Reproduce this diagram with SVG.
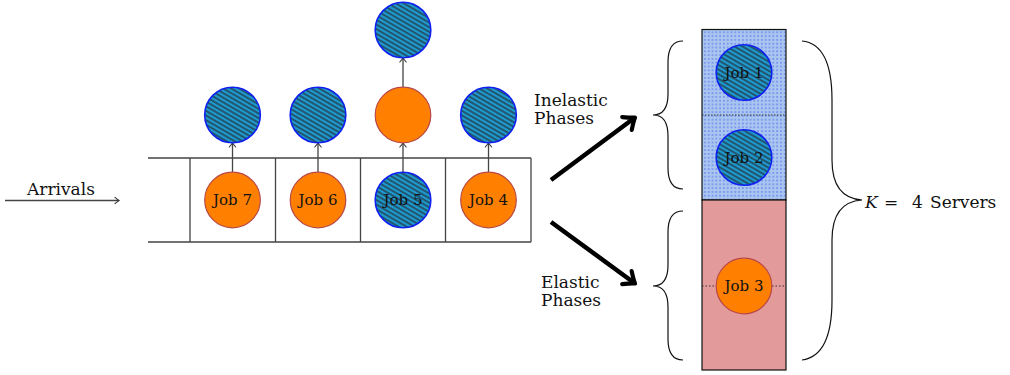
<svg xmlns="http://www.w3.org/2000/svg" width="1010" height="375" viewBox="0 0 1010 375">
<style>
text{fill:#111;font-family:"DejaVu Serif","Liberation Serif",serif}
.lbl{font-size:17px}
.job{font-size:15px;text-anchor:middle;dominant-baseline:central}
.orange{fill:#FF8000;stroke:#B84848;stroke-width:1.2}
.hatched{fill:url(#hatch);stroke:#1020F0;stroke-width:1.6}
.thin{stroke:#444;stroke-width:1.3;fill:none}
.brace{stroke:#111;stroke-width:1.2;fill:none}
.thick{stroke:#000;stroke-width:4.5;fill:none}
</style>
<defs>
<pattern id="hatch" width="4" height="4" patternUnits="userSpaceOnUse" patternTransform="rotate(30)">
<rect width="4" height="4" fill="#1E9ACE"/>
<line x1="0" y1="1" x2="4" y2="1" stroke="#24303C" stroke-width="1.3"/>
</pattern>
<pattern id="dots" width="3.8" height="3.8" patternUnits="userSpaceOnUse">
<rect width="3.8" height="3.8" fill="#A9C6F0"/>
<circle cx="1.9" cy="1.9" r="0.65" fill="#3346E8"/>
</pattern>
<marker id="to" viewBox="-6 -5 8 10" markerWidth="8" markerHeight="10" refX="0" refY="0" orient="auto" markerUnits="userSpaceOnUse">
<path d="M-4,-3.2 Q-1,-0.6 0,0 Q-1,0.6 -4,3.2" fill="none" stroke="#333" stroke-width="1.1" stroke-linecap="round"/>
</marker>
<marker id="bigto" viewBox="-14 -12 18 24" markerWidth="18" markerHeight="24" refX="0" refY="0" orient="auto" markerUnits="userSpaceOnUse">
<path d="M-10,-8 Q-3,-1.8 0,0 Q-3,1.8 -10,8" fill="none" stroke="#000" stroke-width="4.2" stroke-linecap="round" stroke-linejoin="round"/>
</marker>
</defs>

<g id="queue">
<path class="thin" d="M148,158 H531 M148,242 H531 M190,158 V242 M275.5,158 V242 M360.5,158 V242 M445.5,158 V242 M531,158 V242"/>
</g>

<g id="servers">
<rect x="702" y="29.5" width="84" height="170.5" fill="url(#dots)" stroke="#111" stroke-width="1.2"/>
<rect x="702" y="200" width="84" height="170" fill="#E39A9A" stroke="#111" stroke-width="1.2"/>
<line x1="702" y1="115" x2="786" y2="115" stroke="#333" stroke-width="1" stroke-dasharray="1.5,1.5"/>
<line x1="702" y1="286" x2="786" y2="286" stroke="#333" stroke-width="1" stroke-dasharray="1.5,2"/>
</g>

<g id="connectors">
<line class="thin" x1="5" y1="200.5" x2="119" y2="200.5" marker-end="url(#to)"/>
<line class="thin" x1="232.5" y1="172" x2="232.5" y2="143" marker-end="url(#to)"/>
<line class="thin" x1="318" y1="172" x2="318" y2="143" marker-end="url(#to)"/>
<line class="thin" x1="403" y1="172" x2="403" y2="143" marker-end="url(#to)"/>
<line class="thin" x1="488.5" y1="172" x2="488.5" y2="143" marker-end="url(#to)"/>
<line class="thin" x1="403" y1="87" x2="403" y2="58" marker-end="url(#to)"/>
<line class="thick" x1="551" y1="180" x2="635" y2="117.5" marker-end="url(#bigto)"/>
<line class="thick" x1="551" y1="222" x2="635" y2="283.5" marker-end="url(#bigto)"/>
</g>

<g id="job7"><circle class="orange" cx="232.5" cy="200" r="27.8"/><text class="job" x="232.5" y="200">Job 7</text></g>
<g id="job6"><circle class="orange" cx="318" cy="200" r="27.8"/><text class="job" x="318" y="200">Job 6</text></g>
<g id="job5"><circle class="hatched" cx="403" cy="200" r="27.8"/><text class="job" x="403" y="200">Job 5</text></g>
<g id="job4"><circle class="orange" cx="488.5" cy="200" r="27.8"/><text class="job" x="488.5" y="200">Job 4</text></g>
<g id="phase7"><circle class="hatched" cx="232.5" cy="115" r="27.8"/></g>
<g id="phase6"><circle class="hatched" cx="318" cy="115" r="27.8"/></g>
<g id="phase5a"><circle class="orange" cx="403" cy="115" r="27.8"/></g>
<g id="phase5b"><circle class="hatched" cx="403" cy="30" r="27.8"/></g>
<g id="phase4"><circle class="hatched" cx="488.5" cy="115" r="27.8"/></g>

<g id="job1"><circle class="hatched" cx="744" cy="72.5" r="27.8"/><text class="job" x="744" y="72.5">Job 1</text></g>
<g id="job2"><circle class="hatched" cx="744" cy="157.5" r="27.8"/><text class="job" x="744" y="157.5">Job 2</text></g>
<g id="job3"><circle class="orange" cx="744" cy="286" r="27.8"/><text class="job" x="744" y="286">Job 3</text></g>

<g id="braces">
<path class="brace" d="M683,41 Q668,41 668,62 L668,94 Q668,115 653,115 Q668,115 668,136 L668,168 Q668,189 683,189"/>
<path class="brace" d="M683,211 Q668,211 668,232 L668,265 Q668,286 653,286 Q668,286 668,307 L668,339 Q668,360 683,360"/>
<path class="brace" d="M802,41 Q832,44 832,100 L832,160 Q832,198 862,200 Q832,202 832,240 L832,300 Q832,356 802,360"/>
</g>

<g id="labels">
<text class="lbl" x="27" y="195">Arrivals</text>
<text class="lbl" x="534" y="106">Inelastic</text>
<text class="lbl" x="534" y="124">Phases</text>
<text class="lbl" x="541" y="288">Elastic</text>
<text class="lbl" x="541" y="306">Phases</text>
<text class="lbl" y="208"><tspan x="865" font-style="italic">K</tspan><tspan x="884">=</tspan><tspan x="912">4</tspan><tspan x="930">Servers</tspan></text>
</g>
</svg>
